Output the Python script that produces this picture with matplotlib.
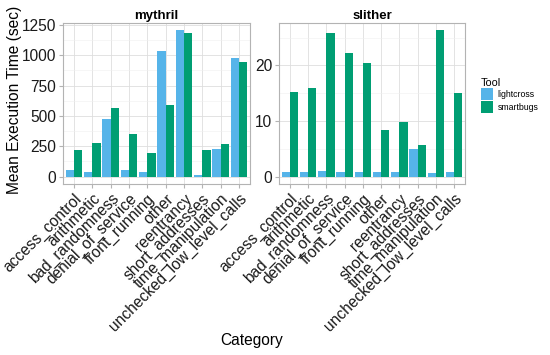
import matplotlib
matplotlib.use("Agg")
import matplotlib.pyplot as plt
import numpy as np
from matplotlib.ticker import MultipleLocator
from matplotlib.patches import Patch

plt.rcParams['font.family'] = ['Liberation Sans', 'DejaVu Sans']

categories = ["access_control", "arithmetic", "bad_randomness", "denial_of_service",
              "front_running", "other", "reentrancy", "short_addresses",
              "time_manipulation", "unchecked_low_level_calls"]
tools = ["lightcross", "smartbugs"]
colors = {"lightcross": "#56B4E9", "smartbugs": "#009E73"}

mythril_lightcross = [51, 41, 474, 51, 38, 1033, 1204, 14, 228, 976]
mythril_smartbugs = [217, 279, 561, 355, 198, 591, 1185, 222, 271, 946]
slither_lightcross = [0.77, 0.83, 1.0, 0.83, 0.77, 0.77, 0.83, 5.0, 0.7, 0.9]
slither_smartbugs = [15.3, 16.0, 25.8, 22.3, 20.4, 8.4, 9.9, 5.7, 26.3, 15.0]

panels = [
    ("mythril", {"lightcross": mythril_lightcross, "smartbugs": mythril_smartbugs}, 250, [0, 250, 500, 750, 1000, 1250]),
    ("slither", {"lightcross": slither_lightcross, "smartbugs": slither_smartbugs}, 10, [0, 10, 20]),
]

fig = plt.figure(figsize=(5.5, 3.55), dpi=100)
W, H = 550, 355
axes_px = [(63, 23, 250, 184), (279, 23, 465, 184)]

x = np.arange(len(categories))
bw = 0.45
FS = 11.2
for (name, data, step, ticks), (l, t, r, b) in zip(panels, axes_px):
    ax = fig.add_axes([l / W, 1 - b / H, (r - l) / W, (b - t) / H])
    for i, tool in enumerate(tools):
        ax.bar(x + (i - 0.5) * bw, data[tool], width=bw, color=colors[tool], zorder=3)
    vals = data["lightcross"] + data["smartbugs"]
    mx = max(vals)
    ax.set_ylim(-0.05 * mx, mx * 1.05)
    ax.set_xlim(-0.6, len(categories) - 0.4)
    ax.set_yticks(ticks)
    ax.yaxis.set_minor_locator(MultipleLocator(step / 2))
    ax.xaxis.set_minor_locator(MultipleLocator(1))
    ax.set_xticks(x)
    ax.set_xticklabels(categories, rotation=45, ha="right", rotation_mode="anchor",
                       fontsize=FS, color="#1a1a1a")
    ax.tick_params(axis="y", labelsize=FS, labelcolor="#1a1a1a", length=3, color="#b3b3b3", pad=2)
    ax.tick_params(axis="x", length=3, color="#b3b3b3", pad=2)
    ax.tick_params(which="minor", length=0)
    ax.grid(True, which="major", color="#dedede", lw=0.6, zorder=0)
    ax.grid(True, which="minor", axis="y", color="#efefef", lw=0.4, zorder=0)
    ax.set_axisbelow(True)
    for s in ax.spines.values():
        s.set_color("#b3b3b3")
        s.set_linewidth(0.8)
    ax.set_title(name, fontsize=9.5, fontweight="bold", pad=3)

fig.text(15 / W, 1 - 100 / H, "Mean Execution Time (sec)", rotation=90, ha="center", va="center", fontsize=FS)
fig.text(252 / W, 1 - 340 / H, "Category", ha="center", va="center", fontsize=FS)

handles = [Patch(facecolor=colors[t], edgecolor="none") for t in tools]
leg = fig.legend(handles, tools, loc="upper left", bbox_to_anchor=(479 / W, 1 - 76 / H),
                 title="Tool", frameon=False, fontsize=6.3, title_fontsize=7.8,
                 handlelength=1.45, handleheight=1.75, handletextpad=0.5, labelspacing=0.05,
                 borderaxespad=0, borderpad=0.2)
leg._legend_box.align = "left"

fig.savefig("out.png", dpi=100)
